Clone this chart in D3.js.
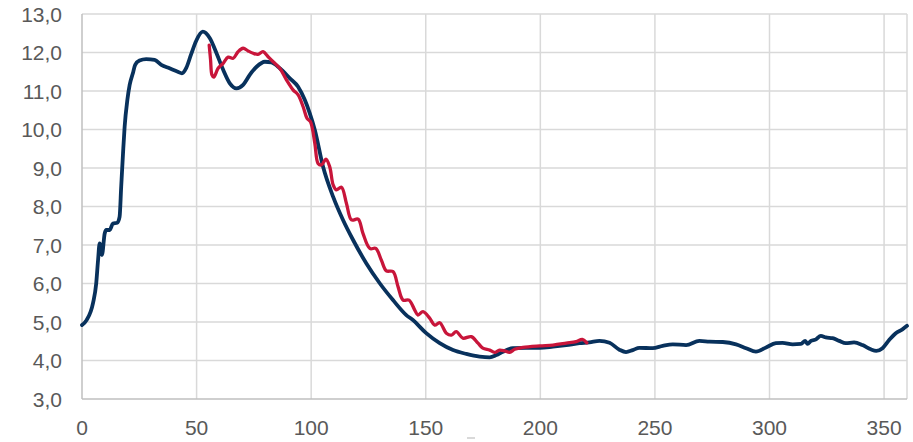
<!DOCTYPE html>
<html>
<head>
<meta charset="utf-8">
<script src="https://cdn.jsdelivr.net/npm/d3@7"></script>
<style>
  body { margin: 0; background: #fff; }
</style>
</head>
<body>
<div id="my_dataviz"></div>
<script>
// data
var navyX = [0, 2, 4.8, 6.2, 7, 7.7, 8.7, 9.9, 10.6, 12.1, 13.5, 15.4, 16.4, 17.1, 17.9, 18.6, 19.8, 20.8, 22.2, 23.2,
  25.1, 28, 31.7, 34.6, 38.2, 41.8, 43.6, 45.5, 47.6, 49.8, 52.7, 55.8, 58.7, 61.6, 64.5, 67.4, 70.3, 73.2, 76.2, 79.8,
  82.7, 86.3, 90.7, 94.3, 97.2, 99.4, 101.6, 105.2, 109.6, 113.9, 118.3, 124.1, 130, 135.7, 141.5, 144.4, 150.2, 156.1,
  161.9, 167.7, 173.5, 177.9, 180.8, 183.7, 188, 193.9, 199.7, 205.5, 211.3, 217.1, 221.4, 225.8, 230.2, 234.5, 237.4,
  240.3, 243.2, 249, 253.4, 257.8, 263.6, 269.4, 273.8, 279.6, 285.4, 289.8, 294.1, 298.5, 302.8, 305.7, 310.1, 313.7,
  315.6, 316.6, 318.1, 320.3, 322.4, 324.6, 327.5, 330.4, 333.3, 336.9, 340.6, 344.2, 346.6, 349.3, 352.2, 355.1, 358, 360]
var navyY = [4.92, 5.05, 5.49, 6.0, 6.6, 7.04, 6.74, 7.3, 7.39, 7.39, 7.56, 7.58, 7.73, 8.51, 9.38, 10.07, 10.77, 11.16, 11.46, 11.68,
  11.79, 11.83, 11.81, 11.68, 11.59, 11.5, 11.46, 11.6, 11.95, 12.3, 12.54, 12.37, 11.98, 11.55, 11.2, 11.07, 11.16, 11.42, 11.63, 11.76,
  11.74, 11.59, 11.33, 11.11, 10.77, 10.42, 9.99, 9.03, 8.25, 7.65, 7.13, 6.52, 6.0, 5.57, 5.18, 5.05, 4.71, 4.45,
  4.27, 4.17, 4.1, 4.08, 4.14, 4.23, 4.32, 4.33, 4.33, 4.36, 4.4, 4.45, 4.47, 4.51, 4.46, 4.28, 4.22,
  4.27, 4.33, 4.32, 4.38, 4.42, 4.4, 4.51, 4.49, 4.48, 4.42, 4.32, 4.23, 4.34, 4.45, 4.46, 4.42, 4.43,
  4.51, 4.43, 4.51, 4.55, 4.64, 4.6, 4.58, 4.51, 4.45, 4.47, 4.4, 4.29, 4.25, 4.32, 4.53, 4.71, 4.81, 4.9]

var redX = [55.5, 56.1, 56.7, 57.5, 59.4, 61.6, 63.8, 66, 68.1, 70.3, 72.5, 74.7, 76.8, 79, 81.2, 83.4, 86.3, 89.2, 92.1, 94.3,
  96.5, 98.2, 99.7, 101.6, 103, 104.5, 106.4, 108.1, 109.6, 111, 113.2, 115.4, 117.6, 120.5, 122.6, 125.6, 128.2, 130.6, 132.8, 135.7,
  137.9, 140.1, 142.7, 145.2, 146.6, 148.8, 151.7, 153.9, 156.1, 159, 161.2, 163.3, 166.2, 169.9, 172.8, 174.9, 177.9, 180, 182.2, 184.4,
  186.6, 188.8, 192.4, 199.7, 205.5, 211.3, 215.6, 218.3, 220.3]
var redY = [12.19, 11.81, 11.42, 11.36, 11.59, 11.72, 11.88, 11.85, 12.02, 12.11, 12.04, 11.98, 11.95, 12.02, 11.89, 11.76, 11.59, 11.29, 11.03, 10.9,
  10.59, 10.29, 10.2, 9.64, 9.12, 9.08, 9.23, 9.03, 8.56, 8.43, 8.5, 8.08, 7.65, 7.67, 7.3, 6.91, 6.91, 6.61, 6.33, 6.31,
  5.92, 5.57, 5.57, 5.31, 5.18, 5.27, 5.1, 4.92, 4.98, 4.71, 4.66, 4.75, 4.58, 4.62, 4.45, 4.32, 4.27, 4.21, 4.27, 4.25,
  4.21, 4.29, 4.34, 4.38, 4.4, 4.45, 4.49, 4.55, 4.46]

var xTicks = [0, 50, 100, 150, 200, 250, 300, 350]
var yTicks = [3, 4, 5, 6, 7, 8, 9, 10, 11, 12, 13]

// set the dimensions and margins of the graph
var width = 913,
    height = 442,
    margin = {top: 14, right: 6, bottom: 43, left: 82}

var svg = d3.select("#my_dataviz")
  .append("svg")
    .attr("width", width)
    .attr("height", height)

var x = d3.scaleLinear().domain([0, 360]).range([margin.left, width - margin.right])
var y = d3.scaleLinear().domain([3, 13]).range([height - margin.bottom, margin.top])

var comma = function(d) { return d3.format(".1f")(d).replace(".", ",") }

// gridlines
svg.append("g")
  .selectAll("line")
  .data(yTicks.slice(1))
  .enter()
  .append("line")
    .attr("x1", x(0)).attr("x2", x(360))
    .attr("y1", function(d) { return y(d) }).attr("y2", function(d) { return y(d) })
    .attr("stroke", "#d9d9d9").attr("stroke-width", 1.5)

svg.append("g")
  .selectAll("line")
  .data(xTicks.slice(1).concat([360]))
  .enter()
  .append("line")
    .attr("x1", function(d) { return x(d) }).attr("x2", function(d) { return x(d) })
    .attr("y1", y(3)).attr("y2", y(13))
    .attr("stroke", "#d9d9d9").attr("stroke-width", 1.5)

// axis lines
svg.append("line")
  .attr("x1", x(0)).attr("x2", x(0)).attr("y1", y(3)).attr("y2", y(13))
  .attr("stroke", "#bfbfbf").attr("stroke-width", 1.5)
svg.append("line")
  .attr("x1", x(0)).attr("x2", x(360)).attr("y1", y(3)).attr("y2", y(3))
  .attr("stroke", "#bfbfbf").attr("stroke-width", 1.5)

// tick labels
svg.append("g")
  .selectAll("text")
  .data(yTicks)
  .enter()
  .append("text")
    .attr("x", x(0) - 20)
    .attr("y", function(d) { return y(d) })
    .attr("dy", "0.36em")
    .attr("text-anchor", "end")
    .style("font-family", "'Liberation Sans', Arial, sans-serif")
    .style("font-size", "21px")
    .style("fill", "#595959")
    .text(comma)

svg.append("g")
  .selectAll("text")
  .data(xTicks)
  .enter()
  .append("text")
    .attr("x", function(d) { return x(d) })
    .attr("y", y(3) + 36)
    .attr("text-anchor", "middle")
    .style("font-family", "'Liberation Sans', Arial, sans-serif")
    .style("font-size", "21px")
    .style("fill", "#595959")
    .text(function(d) { return d })

// the little stray mark under the axis
svg.append("rect")
  .attr("x", x(168)).attr("y", y(3) + 38).attr("width", 8).attr("height", 2)
  .attr("fill", "#d9d9d9")

// lines
var line = d3.line()
  .x(function(d) { return x(d[0]) })
  .y(function(d) { return y(d[1]) })
  .curve(d3.curveMonotoneX)

var wiggle = d3.line()
  .x(function(d) { return x(d[0]) })
  .y(function(d) { return y(d[1]) })
  .curve(d3.curveCatmullRom.alpha(0.5))

svg.append("path")
  .datum(d3.zip(navyX, navyY))
  .attr("d", line)
  .attr("fill", "none")
  .attr("stroke", "#08315c")
  .attr("stroke-width", 3.8)
  .attr("stroke-linejoin", "round")
  .attr("stroke-linecap", "round")

svg.append("path")
  .datum(d3.zip(redX, redY))
  .attr("d", wiggle)
  .attr("fill", "none")
  .attr("stroke", "#c8153a")
  .attr("stroke-width", 3.3)
  .attr("stroke-linejoin", "round")
  .attr("stroke-linecap", "round")
</script>
</body>
</html>
